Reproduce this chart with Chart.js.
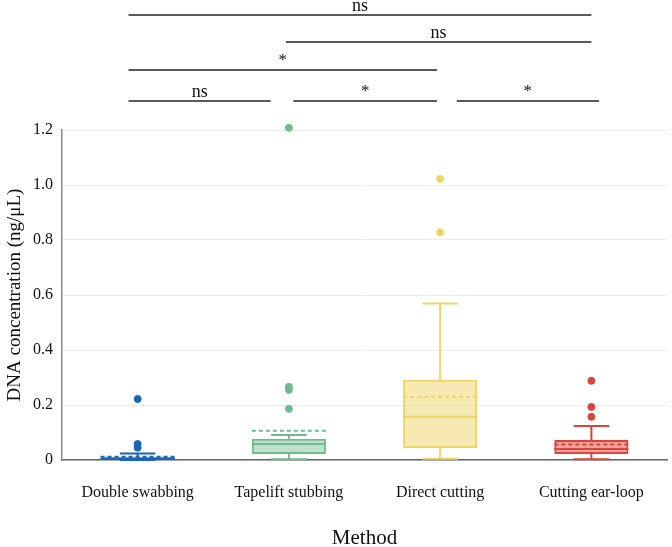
<!DOCTYPE html>
<html>
<head>
<meta charset="utf-8">
<script src="https://cdn.jsdelivr.net/npm/chart.js@4.4.0/dist/chart.umd.min.js"></script>
<style>
  html, body { margin: 0; padding: 0; background: #fff; }
  #wrap { width: 672px; height: 547px; position: relative; }
</style>
</head>
<body>
<div id="wrap"><canvas id="grafico"></canvas></div>
<script>
// Datos
const categorias = ['Double swabbing', 'Tapelift stubbing', 'Direct cutting', 'Cutting ear-loop'];
const q1 = [0.002, 0.022, 0.044, 0.022];
const q3 = [0.010, 0.077, 0.292, 0.073];
const medianas = [0.005, 0.058, 0.157, 0.040];
const medias = [0.012, 0.106, 0.230, 0.056];
const bigoteBajo = [0.0, 0.003, 0.005, 0.003];
const bigoteAlto = [0.024, 0.091, 0.569, 0.124];
const atipicosDouble = [0.045, 0.058, 0.222];
const atipicosTapelift = [0.186, 0.255, 0.266, 1.208];
const atipicosDirect = [0.828, 1.022];
const atipicosEarLoop = [0.157, 0.193, 0.288];
const yTicks = [0, 0.2, 0.4, 0.6, 0.8, 1.0, 1.2];

// Comparaciones (desde, hasta en índice de categoría, nivel, etiqueta)
const compDesde = [-0.06, 0.98, -0.06, -0.06, 1.03, 2.11];
const compHasta = [3.0, 3.0, 1.98, 0.88, 1.98, 3.05];
const compNivel = [3, 2, 1, 0, 0, 0];
const compEtiqueta = ['ns', 'ns', '*', 'ns', '*', '*'];

const colores = ['#1a64b4', '#6fba8f', '#efd466', '#d8453a'];
const rellenos = ['rgba(26,100,180,0.45)', 'rgba(111,186,143,0.45)', 'rgba(239,212,102,0.5)', 'rgba(216,69,58,0.5)'];
const fuente = '"Liberation Serif", "Times New Roman", serif';

const todosAtipicos = [atipicosDouble, atipicosTapelift, atipicosDirect, atipicosEarLoop];
const puntos = [];
const coloresPuntos = [];
todosAtipicos.forEach((lista, i) => {
    lista.forEach(v => {
        puntos.push({ x: categorias[i], y: v });
        coloresPuntos.push(colores[i]);
    });
});

const pluginCajas = {
    id: 'cajas',
    afterDatasetsDraw(chart) {
        const ctx = chart.ctx;
        const x = chart.scales.x;
        const y = chart.scales.y;
        const meta = chart.getDatasetMeta(0);
        ctx.save();
        categorias.forEach((c, i) => {
            const cx = x.getPixelForValue(i);
            const ancho = meta.data[i].width;
            const mitad = ancho / 2;
            const tapa = ancho * 0.24;
            ctx.strokeStyle = colores[i];
            ctx.lineWidth = 2;
            ctx.setLineDash([]);
            ctx.beginPath();
            ctx.moveTo(cx, y.getPixelForValue(q3[i]));
            ctx.lineTo(cx, y.getPixelForValue(bigoteAlto[i]));
            ctx.moveTo(cx - tapa, y.getPixelForValue(bigoteAlto[i]));
            ctx.lineTo(cx + tapa, y.getPixelForValue(bigoteAlto[i]));
            ctx.moveTo(cx, y.getPixelForValue(q1[i]));
            ctx.lineTo(cx, y.getPixelForValue(bigoteBajo[i]));
            ctx.moveTo(cx - tapa, y.getPixelForValue(bigoteBajo[i]));
            ctx.lineTo(cx + tapa, y.getPixelForValue(bigoteBajo[i]));
            ctx.moveTo(cx - mitad, y.getPixelForValue(medianas[i]));
            ctx.lineTo(cx + mitad, y.getPixelForValue(medianas[i]));
            ctx.stroke();
            ctx.setLineDash([4, 3]);
            ctx.beginPath();
            ctx.moveTo(cx - mitad, y.getPixelForValue(medias[i]));
            ctx.lineTo(cx + mitad, y.getPixelForValue(medias[i]));
            ctx.stroke();
        });
        ctx.restore();
    },
    afterDraw(chart) {
        const ctx = chart.ctx;
        const x = chart.scales.x;
        const area = chart.chartArea;
        ctx.save();
        // Corchetes de significancia
        const filas = [101, 70, 42, 15];
        ctx.strokeStyle = '#222';
        ctx.lineWidth = 1.5;
        ctx.fillStyle = '#111';
        ctx.textAlign = 'center';
        ctx.textBaseline = 'alphabetic';
        compDesde.forEach((d, k) => {
            const x1 = x.getPixelForValue(d);
            const x2 = x.getPixelForValue(compHasta[k]);
            const yy = filas[compNivel[k]];
            ctx.beginPath();
            ctx.moveTo(x1, yy);
            ctx.lineTo(x2, yy);
            ctx.stroke();
            const esAst = compEtiqueta[k] === '*';
            ctx.font = (esAst ? '17px ' : '18px ') + fuente;
            ctx.fillText(compEtiqueta[k], (x1 + x2) / 2, yy - (esAst ? 5 : 4));
        });
        // Título del eje Y
        ctx.translate(15, (area.top + area.bottom) / 2);
        ctx.rotate(-Math.PI / 2);
        ctx.textBaseline = 'middle';
        ctx.font = '19px ' + fuente;
        ctx.fillText('DNA concentration (ng/\u03BCL)', 0, 0);
        ctx.restore();
    }
};

new Chart(document.getElementById('grafico'), {
    type: 'bar',
    data: {
        labels: categorias,
        datasets: [{
            type: 'bar',
            data: categorias.map((c, i) => [q1[i], q3[i]]),
            backgroundColor: rellenos,
            borderColor: colores,
            borderWidth: 2,
            borderSkipped: false,
            barPercentage: 0.49,
            categoryPercentage: 1
        }, {
            type: 'scatter',
            data: puntos,
            backgroundColor: coloresPuntos,
            borderColor: coloresPuntos,
            pointRadius: 3.5,
            clip: false
        }]
    },
    options: {
        responsive: true,
        maintainAspectRatio: false,
        animation: false,
        layout: { padding: { top: 130, left: 24, right: 1, bottom: 0 } },
        plugins: {
            legend: { display: false },
            tooltip: { enabled: false }
        },
        scales: {
            x: {
                type: 'category',
                offset: true,
                grid: { display: false, drawTicks: false },
                border: { color: '#666', width: 1.5 },
                ticks: { color: '#111', font: { family: fuente, size: 16 }, padding: 23 },
                title: { display: true, text: 'Method', color: '#111', font: { family: fuente, size: 21, lineHeight: 0.8 }, padding: { top: 5, bottom: 0 } }
            },
            y: {
                min: 0,
                max: 1.2,
                afterBuildTicks(scale) { scale.ticks = yTicks.map(v => ({ value: v })); },
                grid: { color: '#ececec', drawTicks: false },
                border: { color: '#888', width: 1.5 },
                ticks: {
                    color: '#111',
                    padding: 9,
                    font: { family: fuente, size: 16 },
                    callback: v => v === 0 ? '0' : v.toFixed(1)
                }
            }
        }
    },
    plugins: [pluginCajas]
});
</script>
</body>
</html>
